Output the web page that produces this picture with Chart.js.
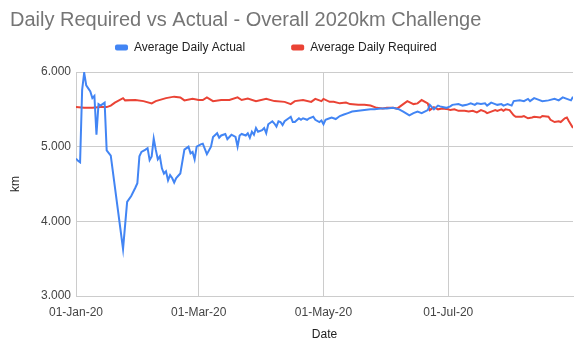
<!DOCTYPE html>
<html><head><meta charset="utf-8">
<script src="https://cdn.jsdelivr.net/npm/chart.js@4.4.1/dist/chart.umd.min.js"></script>
<style>html,body{margin:0;padding:0;background:#fff;}canvas{display:block;}</style>
</head><body>
<canvas id="c" width="585" height="356"></canvas>
<script>
const chartTitle = 'Daily Required vs Actual - Overall 2020km Challenge';
const seriesNames = ['Average Daily Actual', 'Average Daily Required'];
const tickDays = [0, 60, 121, 182];
const tickLabels = ['01-Jan-20', '01-Mar-20', '01-May-20', '01-Jul-20'];
const yTicks = [3, 4, 5, 6];

const actualDays = [0,1,2,3,4,5,6,7,8,9,10,11,12,13,14,15,17,23,25,27,29,30,31,32,34,35,36,37,38,39,40,41,42,43,44,45,46,47,48,49,50,51,53,54,55,56,57,58,59,61,62,64,66,67,69,70,71,73,74,75,76,78,79,80,81,83,84,85,86,87,88,89,91,92,93,94,96,97,98,99,100,101,102,104,105,106,107,109,110,111,113,114,116,117,119,120,121,122,124,125,127,129,131,133,135,138,141,144,146,149,152,155,158,160,163,165,167,169,172,173,175,177,178,181,183,184,187,189,191,193,195,196,198,200,201,203,204,206,208,209,211,213,214,217,219,221,222,224,226,228,231,234,236,238,240,242,243];
const actualValues = [4.84,4.81,4.79,5.76,5.99,5.82,5.78,5.74,5.65,5.68,5.16,5.57,5.55,5.57,5.59,4.95,4.88,3.63,4.26,4.34,4.45,4.51,4.87,4.93,4.96,4.98,4.82,4.87,5.11,4.96,4.83,4.87,4.71,4.64,4.67,4.55,4.62,4.58,4.52,4.58,4.61,4.64,4.96,4.98,5.00,4.91,4.93,4.83,5.00,5.03,5.04,4.90,5.00,5.13,5.18,5.12,5.15,5.17,5.10,5.13,5.16,5.13,5.00,5.15,5.17,5.15,5.18,5.12,5.20,5.16,5.25,5.20,5.22,5.25,5.18,5.30,5.34,5.31,5.27,5.34,5.33,5.29,5.34,5.38,5.40,5.33,5.33,5.38,5.36,5.38,5.36,5.38,5.40,5.36,5.33,5.35,5.30,5.36,5.38,5.39,5.37,5.41,5.43,5.45,5.47,5.48,5.49,5.50,5.50,5.51,5.51,5.52,5.50,5.47,5.42,5.45,5.47,5.45,5.49,5.56,5.50,5.55,5.54,5.52,5.54,5.56,5.57,5.55,5.56,5.58,5.56,5.58,5.57,5.58,5.55,5.59,5.58,5.56,5.57,5.55,5.57,5.55,5.61,5.62,5.61,5.64,5.61,5.65,5.63,5.61,5.62,5.64,5.62,5.66,5.64,5.62,5.67];

const requiredDays = [0,4,8,12,15,17,19,23,24,29,33,37,39,44,48,51,53,57,60,62,64,67,71,75,79,81,84,88,93,97,102,105,107,111,115,117,120,121,124,126,129,132,134,138,141,144,147,150,152,155,157,160,162,165,167,169,172,173,175,177,179,182,183,185,187,190,192,194,196,198,200,201,203,205,206,208,209,210,212,214,215,218,219,221,223,224,227,228,231,232,234,236,237,239,240,241,243];
const requiredValues = [5.53,5.52,5.52,5.53,5.53,5.55,5.59,5.65,5.62,5.625,5.61,5.58,5.61,5.65,5.67,5.66,5.62,5.64,5.625,5.625,5.66,5.61,5.625,5.625,5.66,5.625,5.645,5.61,5.64,5.61,5.60,5.57,5.61,5.625,5.60,5.64,5.61,5.64,5.60,5.60,5.58,5.59,5.57,5.56,5.56,5.55,5.52,5.51,5.52,5.52,5.51,5.57,5.61,5.57,5.58,5.625,5.58,5.49,5.53,5.50,5.51,5.50,5.49,5.50,5.48,5.48,5.47,5.48,5.46,5.49,5.47,5.45,5.47,5.49,5.48,5.50,5.48,5.50,5.49,5.42,5.40,5.40,5.41,5.38,5.39,5.40,5.39,5.41,5.40,5.36,5.33,5.34,5.33,5.38,5.39,5.34,5.25];

const FONT = "'Liberation Sans', Arial, sans-serif";
const LEGEND_BOX_X = 115, LEGEND_CENTER_Y = 47.5, LEGEND_H = 37;

const legendPlace = {
  id: 'legendPlace',
  beforeLayout(chart) {
    const lg = chart.legend;
    if (!lg || lg._placed) return;
    lg._placed = true;
    const fit0 = lg.fit;
    lg.fit = function () { fit0.call(this); this.height = LEGEND_H; };
    const draw0 = lg.draw;
    lg.draw = function () {
      const saved = {top: this.top, bottom: this.bottom, left: this.left, height: this.height};
      const pad = this.options.labels.padding;
      const ih = this.options.labels.font.size || 12;
      this.top = LEGEND_CENTER_Y - ih / 2 - pad;
      this.bottom = this.top + 200; this.height = 200;
      this.left = LEGEND_BOX_X - pad;
      draw0.call(this);
      Object.assign(this, saved);
    };
  }
};

const mk = (days, vals) => days.map((d, i) => ({x: d, y: vals[i]}));

new Chart(document.getElementById('c'), {
  type: 'line',
  data: {
    datasets: [
      {label: seriesNames[0], data: mk(actualDays, actualValues), borderColor: '#4285F4', backgroundColor: '#4285F4', borderWidth: 2, pointRadius: 0, tension: 0},
      {label: seriesNames[1], data: mk(requiredDays, requiredValues), borderColor: '#EA4335', backgroundColor: '#EA4335', borderWidth: 2, pointRadius: 0, tension: 0}
    ]
  },
  plugins: [legendPlace],
  options: {
    responsive: false,
    animation: false,
    devicePixelRatio: 1,
    layout: {padding: {left: 10, right: 12, top: 0, bottom: 0}},
    plugins: {
      tooltip: {enabled: false},
      title: {display: true, text: chartTitle, align: 'start', color: '#757575',
        font: {family: FONT, size: 20, weight: 'normal'}, padding: {top: 8, bottom: 3}},
      legend: {display: true, position: 'top', align: 'start',
        labels: {boxWidth: 13, boxHeight: 6, padding: 46, color: '#222222',
          font: {family: FONT, size: 12},
          useBorderRadius: true, borderRadius: 2,
          generateLabels: (chart) => Chart.defaults.plugins.legend.labels.generateLabels(chart).map(it => Object.assign(it, {lineWidth: 0}))}}
    },
    scales: {
      x: {type: 'linear', min: 0, max: 243,
        afterBuildTicks: (s) => { s.ticks = tickDays.map(v => ({value: v})); },
        afterFit: (s) => { s.height = 60; },
        grid: {color: '#cccccc', drawTicks: false},
        border: {color: '#cccccc'},
        ticks: {padding: 9, color: '#444444', font: {family: FONT, size: 12}, maxRotation: 0, autoSkip: false,
          callback: (v) => { const i = tickDays.indexOf(v); return i >= 0 ? tickLabels[i] : null; }},
        title: {display: true, text: 'Date', color: '#222222', font: {family: FONT, size: 12}, padding: {top: 0, bottom: 14}}
      },
      y: {min: 3, max: 6,
        afterBuildTicks: (s) => { s.ticks = yTicks.map(v => ({value: v})); },
        afterFit: (s) => { s.width = 66; },
        grid: {color: '#cccccc', drawTicks: false},
        border: {color: '#cccccc'},
        ticks: {padding: 5, color: '#444444', font: {family: FONT, size: 12}, callback: (v) => Number(v).toFixed(3)},
        title: {display: true, text: 'km', color: '#222222', font: {family: FONT, size: 12}, padding: {top: -2, bottom: 0}}
      }
    }
  }
});
</script>
</body></html>
